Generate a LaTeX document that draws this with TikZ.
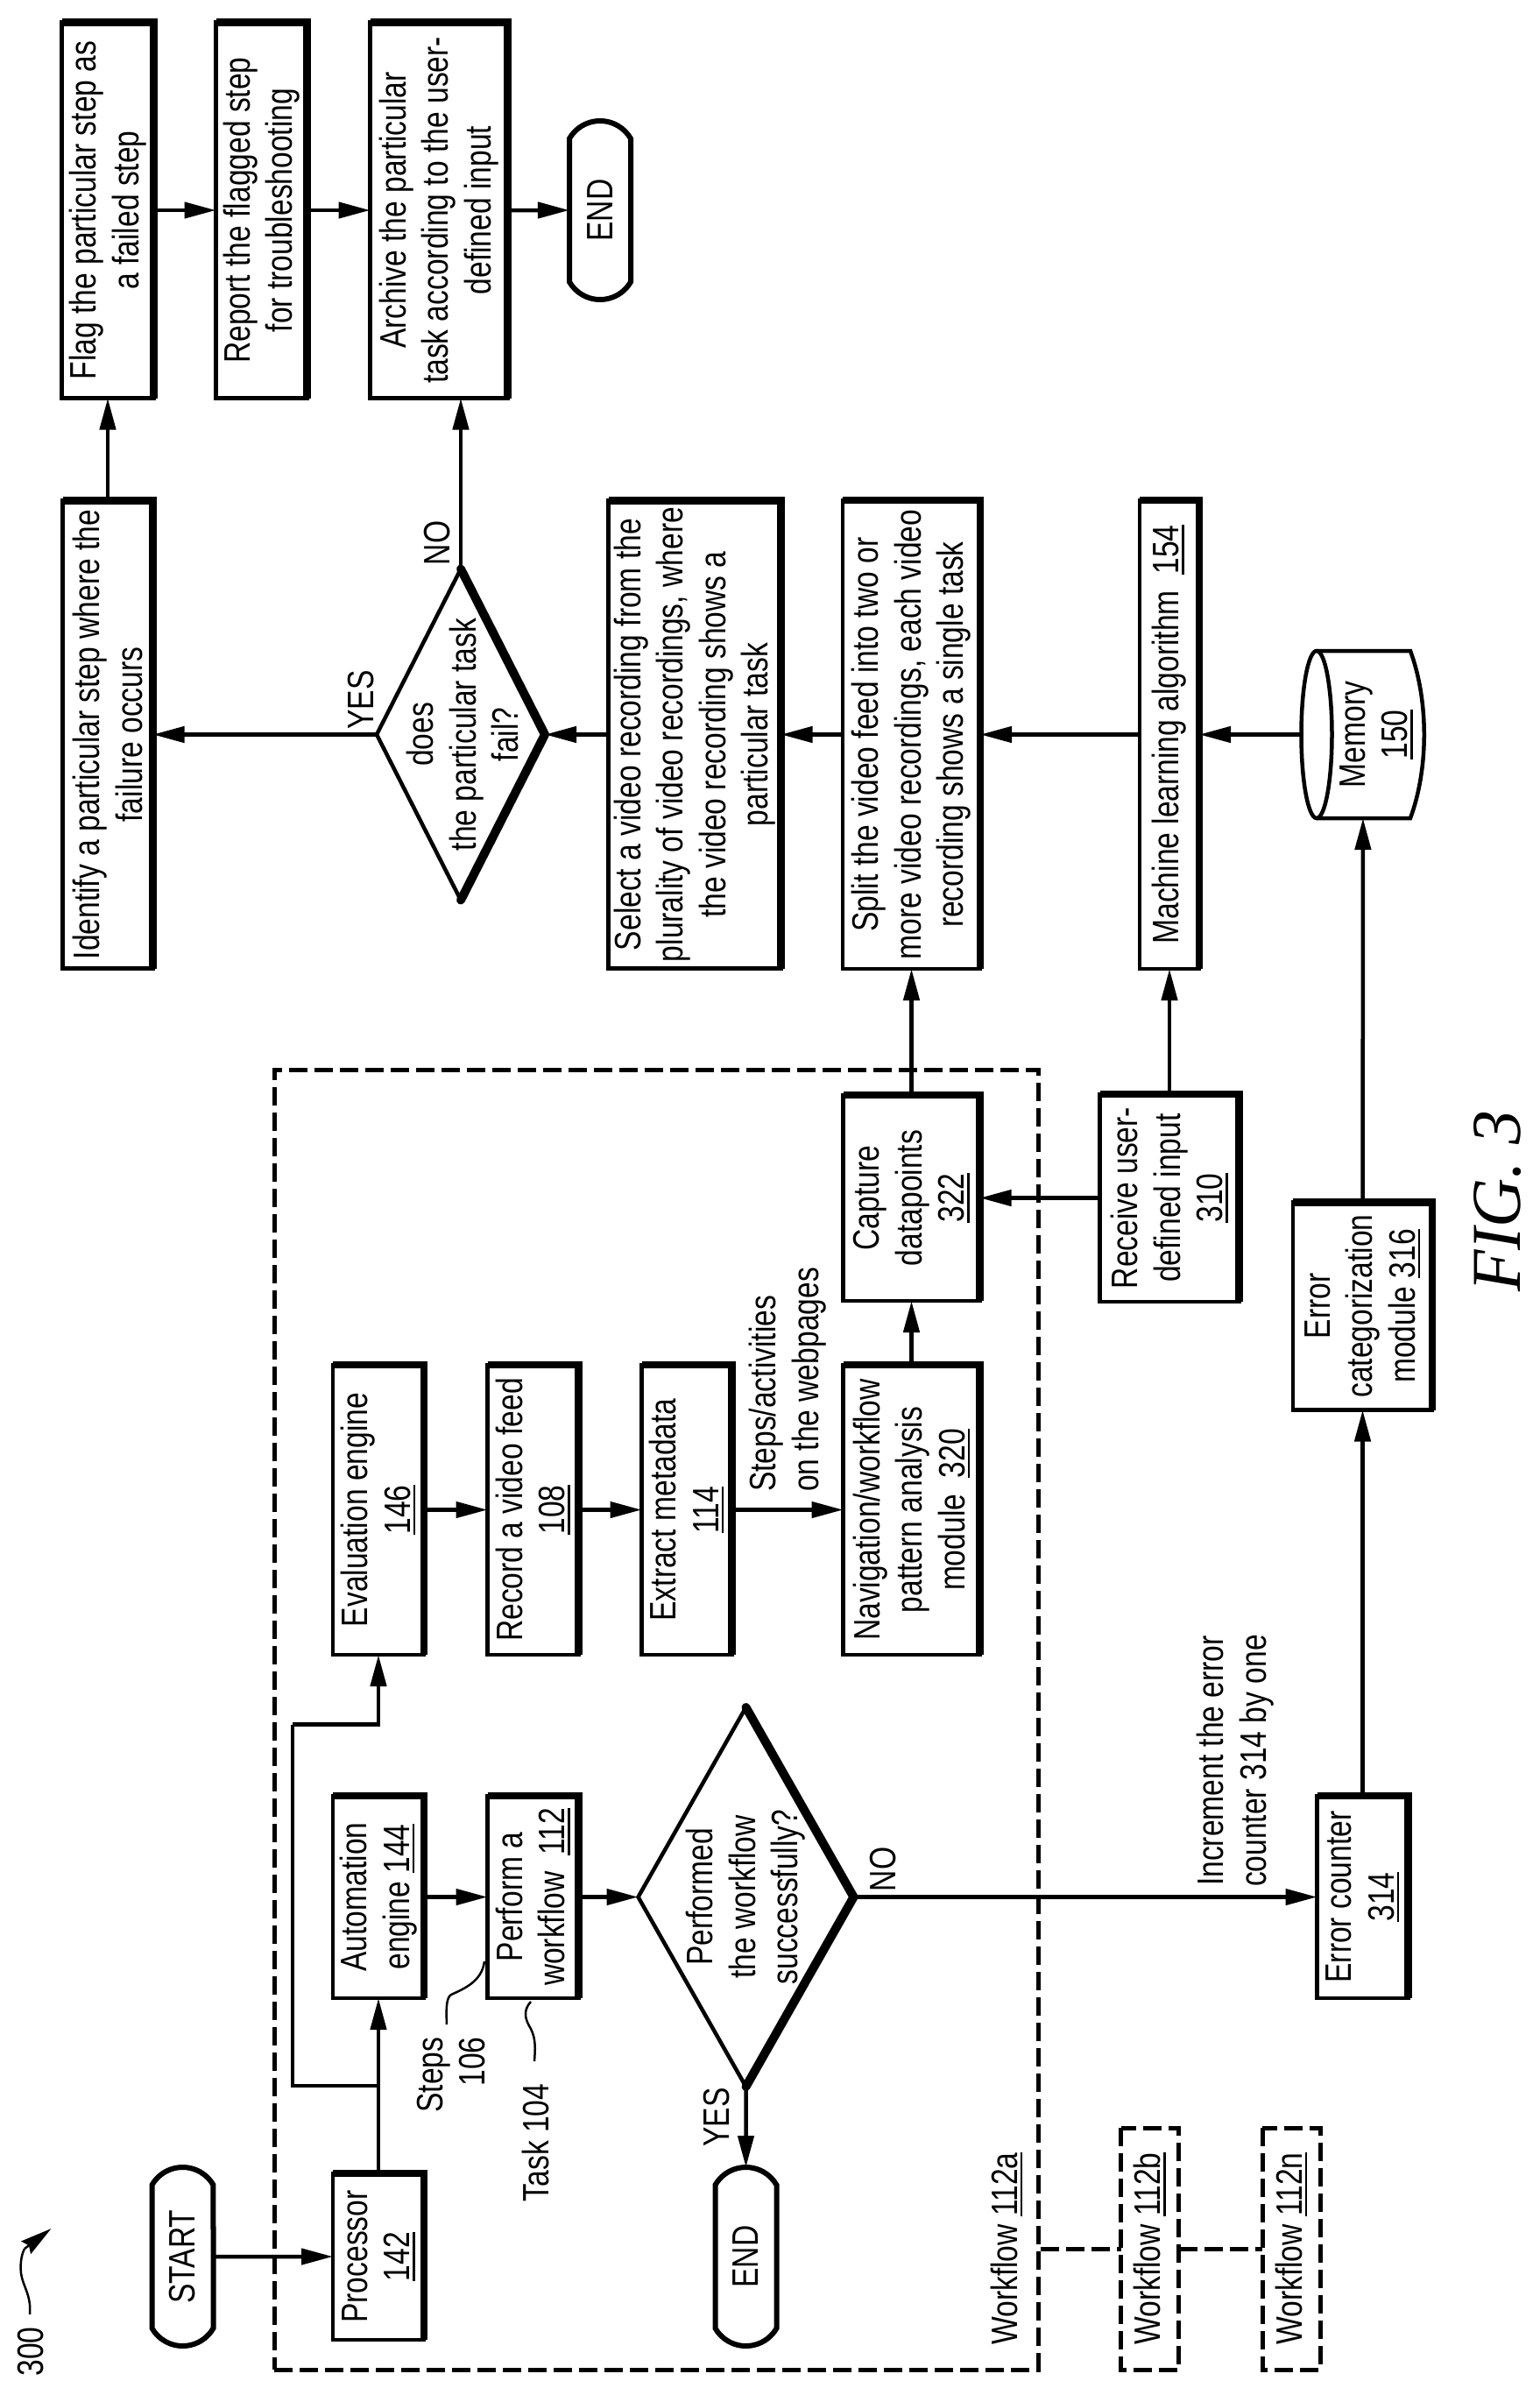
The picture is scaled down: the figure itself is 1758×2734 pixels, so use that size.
\documentclass[tikz,border=0pt]{standalone}
\usepackage{fontspec}
\setmainfont[FakeStretch=0.8]{Liberation Sans}
\newfontfamily\figfont[FakeStretch=0.97]{Liberation Serif}
\usetikzlibrary{arrows.meta,shapes.geometric,shapes.misc}

\newcommand{\refnum}[1]{\leavevmode\setbox0=\hbox{#1}\rlap{\rule[-6pt]{\wd0}{2.5pt}}\box0}

\tikzset{
	textnode/.style={rotate=90,inner sep=0pt,outer sep=0pt,align=center},
	flowbox/.style 2 args={textnode,draw,line width=4.5pt,minimum width=#1pt,minimum height=#2pt,
		append after command={\pgfextra{\let\LN\tikzlastnode
			\draw[line width=8.5pt] (\LN.north east) -- (\LN.south east) -- (\LN.south west);}}},
	decision/.style 2 args={textnode,draw,shape=diamond,line width=4.5pt,minimum width=#1pt,minimum height=#2pt,
		append after command={\pgfextra{\let\LN\tikzlastnode
			\draw[line width=10pt,line join=round,line cap=round] (\LN.east) -- (\LN.south) -- (\LN.west);}}},
	terminal/.style={textnode,draw,shape=rounded rectangle,rounded rectangle arc length=120,line width=6pt,
		minimum width=204pt,minimum height=70pt},
	flowarrow/.style={line width=4.5pt,-{Triangle[length=36pt,width=18pt]}},
	flowline/.style={line width=4.5pt},
	leader/.style={line width=2.5pt},
	dashframe/.style={line width=5pt,dash pattern=on 21pt off 8pt},
}

\begin{document}
\begin{tikzpicture}[x=1pt,y=-1pt,font=\fontsize{42}{48.5}\selectfont]
	\useasboundingbox (0,0) rectangle (1758,2734);

	% workflow frames
	\node[dashframe,draw,minimum width=872pt,minimum height=1484pt] (frame) at (749,1963) {};
	\node[textnode,dashframe,draw,minimum width=276pt,minimum height=66pt] (workflowb) at (1312.5,2567) {Workflow \refnum{112b}};
	\node[textnode,dashframe,draw,minimum width=276pt,minimum height=66pt] (workflown) at (1474,2567) {Workflow \refnum{112n}};
	\node[textnode] (workflowa) at (1149,2567) {Workflow \refnum{112a}};
	\draw[dashframe] (frame.east |- workflowb) -- (workflowb.north);
	\draw[dashframe] (workflowb.south) -- (workflown.north);

	% top row
	\node[flowbox={429}{105}] (flag) at (123,240) {Flag the particular step as\\a failed step};
	\node[flowbox={429}{104}] (report) at (298.5,240) {Report the flagged step\\for troubleshooting};
	\node[flowbox={429}{157}] (archive) at (501,240) {Archive the particular\\task according to the user-\\defined input};
	\node[terminal] (endb) at (685,240) {END};

	% second row
	\node[flowbox={534}{103}] (identify) at (123,838.5) {Identify a particular step where the\\failure occurs};
	\node[decision={378}{192}] (failed) at (526,838.5) {};
	\node[textnode] (failedtext) at (528,838.5) {does\\the particular task\\fail?};
	\node[flowbox={534}{197}] (selectrec) at (793,838.5) {Select a video recording from the\\plurality of video recordings, where\\the video recording shows a\\particular task};
	\node[flowbox={535}{157}] (splitfeed) at (1040.5,838.5) {Split the video feed into two or\\more video recordings, each video\\recording shows a single task};
	\node[flowbox={535}{68}] (mlalgo) at (1335,838.5) {Machine learning algorithm \ \refnum{154}};

	% memory is drawn by hand
	\node[textnode,minimum width=191pt,minimum height=140pt] (memory) at (1556,838.5) {};
	\node[textnode] (memorytext) at (1571,838.5) {Memory\\\refnum{150}};
	\draw[line width=4.5pt] (1503,838.5) ellipse [x radius=17.5,y radius=95.5];
	\draw[line width=4.5pt] (1503,743) -- (1610,743) .. controls (1631,800) and (1631,877) .. (1610,934) -- (1503,934);

	% third row
	\node[flowbox={331}{104}] (evalengine) at (432,1723.5) {Evaluation engine\\\refnum{146}};
	\node[flowbox={331}{104}] (recordfeed) at (608.5,1723.5) {Record a video feed\\\refnum{108}};
	\node[flowbox={331}{103}] (metadata) at (784,1723.5) {Extract metadata\\\refnum{114}};
	\node[flowbox={331}{156}] (navmodule) at (1040.5,1723.5) {Navigation/workflow\\pattern analysis\\module \ \refnum{320}};
	\node[flowbox={235}{156}] (capture) at (1040.5,1367.5) {Capture\\datapoints\\\refnum{322}};
	\node[flowbox={237}{159}] (userinput) at (1335,1367.5) {Receive user-\\defined input\\\refnum{310}};
	\node[flowbox={237}{159}] (errorcat) at (1555.5,1491) {Error\\categorization\\module \refnum{316}};

	% fourth row
	\node[flowbox={231}{104}] (autoengine) at (432,2165.5) {Automation\\engine \refnum{144}};
	\node[flowbox={231}{104}] (perform) at (608.5,2165.5) {Perform a\\workflow \ \refnum{112}};
	\node[decision={433}{246}] (success) at (851.5,2165.5) {};
	\node[textnode] (successtext) at (851.5,2165.5) {Performed\\the workflow\\successfully?};
	\node[flowbox={231}{104}] (errorcount) at (1555.5,2165.5) {Error counter\\\refnum{314}};

	% last row
	\node[terminal] (start) at (208.5,2576) {START};
	\node[flowbox={190}{104}] (processor) at (432,2576) {Processor\\\refnum{142}};
	\node[terminal] (enda) at (851.5,2576) {END};

	% labels
	\node[textnode] (numfig) at (35,2684.5) {300};
	\node[textnode,align=right] (stepslabel) at (515,2368.5) {Steps\\106};
	\node[textnode] (tasklabel) at (611,2446) {Task 104};
	\node[textnode] (yesa) at (818,2417) {YES};
	\node[textnode] (noa) at (1008,2134) {NO};
	\node[textnode] (yesb) at (412,799) {YES};
	\node[textnode] (nob) at (499,620) {NO};
	\node[textnode,align=left] (stepsact) at (899,1575) {Steps/activities\\on the webpages};
	\node[textnode] (increment) at (1410,2010) {Increment the error\\counter 314 by one};
	\node[textnode,font=\figfont\itshape\fontsize{80}{90}\selectfont] (figlabel) at (1710,1371) {FIG. 3};

	\foreach \from/\to in {start/processor,processor/autoengine,autoengine/perform,perform/success,
		success/errorcount,errorcount/errorcat,errorcat/memory,memory/mlalgo,mlalgo/splitfeed,
		splitfeed/selectrec,selectrec/failed,failed/identify,identify/flag,flag/report,report/archive,
		archive/endb,evalengine/recordfeed,recordfeed/metadata,metadata/navmodule,navmodule/capture,
		capture/splitfeed,userinput/capture,userinput/mlalgo,success/enda}{
		\draw[flowarrow] (\from) -- (\to);
	}
	\draw[flowarrow] (failed.east) -- (failed.east |- archive.west);

	% branch to the evaluation engine
	\coordinate (branch) at (432,2381);
	\coordinate (branchcorner) at (334,1968.5);
	\draw[flowline] (branch) -| (branchcorner);
	\draw[flowarrow] (branchcorner) -| (evalengine.west);

	% leaders
	\coordinate (stepstip) at (553,2239);
	\coordinate (stepsfoot) at (510,2311);
	\draw[leader] (stepstip) .. controls (550,2262) and (530,2270) .. (515,2277) .. controls (510,2280) and (509,2290) .. (stepsfoot);
	\coordinate (tasktip) at (606,2285);
	\coordinate (taskfoot) at (610,2353);
	\draw[leader] (tasktip) .. controls (596,2296) and (600,2306) .. (606,2316) .. controls (612,2328) and (611,2340) .. (taskfoot);
	\coordinate (figfoot) at (34,2642);
	\coordinate (figbend) at (28,2567);
	\coordinate (figtip) at (58.5,2544);
	\draw[leader] (figfoot) .. controls (36,2620) and (26,2610) .. (24,2595) .. controls (23,2585) and (24,2575) .. (figbend);
	\draw[leader,-{Stealth[length=36pt,width=18pt,inset=4pt]}] (figbend) -- (figtip);
\end{tikzpicture}
\end{document}
